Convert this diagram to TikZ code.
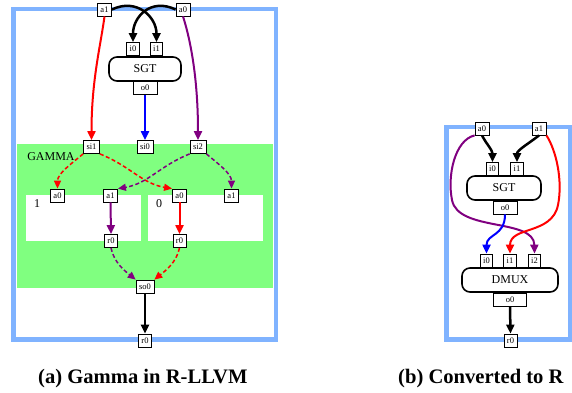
\documentclass[tikz,border=0pt]{standalone}
\usepackage{fontspec}
\setmainfont{Liberation Serif}
\usetikzlibrary{arrows.meta}
\definecolor{framec}{RGB}{128,179,255}
\definecolor{gammag}{RGB}{128,255,128}
\definecolor{pur}{RGB}{128,0,128}
\tikzset{
  port/.style={draw=black, line width=0.8pt, fill=white, font=\fontsize{8.5}{9}\selectfont, inner xsep=3pt, inner ysep=0pt, minimum height=13pt},
  opbox/.style={draw=black, line width=1.6pt, rounded corners=8pt, fill=white, font=\fontsize{12}{13}\selectfont, minimum height=24pt},
  frame/.style={draw=framec, line width=4.5pt},
  tipbig/.style={-{Triangle[length=9pt,width=8pt]}},
  tipsm/.style={-{Triangle[length=8pt,width=7pt]}},
  blk/.style={draw=black, line width=2.5pt, tipbig},
  solidc/.style={line width=2pt, tipbig},
  dashc/.style={line width=1.5pt, dash pattern=on 4pt off 2.5pt, tipsm},
  captxt/.style={font=\bfseries\fontsize{20.6}{22}\selectfont, anchor=base west, inner sep=0pt},
  lbl/.style={font=\fontsize{12}{13}\selectfont, inner sep=0pt}
}
\begin{document}
\begin{tikzpicture}[x=1pt,y=-1pt]
\useasboundingbox (0,0) rectangle (572,392);
% ---------- (a) ----------
\draw[frame] (13.5,9) rectangle (276,339.5);
\fill[gammag] (17,144) rectangle (273,288);
\fill[white] (26,195) rectangle (141,241);
\fill[white] (148,195) rectangle (263,241);
\node[lbl] (gl) at (51,157) {GAMMA};
\node[lbl] (l1) at (37,204) {1};
\node[lbl] (l0) at (159,204) {0};

\node[port] (a1) at (104.5,9.5) {a1};
\node[port] (a0) at (183,9.5) {a0};
\node[port] (i0) at (133,49) {i0};
\node[port] (i1) at (156.5,49) {i1};
\node[opbox, minimum width=72pt] (sgt) at (145,69) {SGT};
\node[port, minimum width=24pt] (o0) at (145,88) {o0};
\node[port] (si1) at (91.5,147) {si1};
\node[port] (si0) at (145,147) {si0};
\node[port] (si2) at (198,147) {si2};
\node[port] (a0L) at (57.5,195.5) {a0};
\node[port] (a1L) at (110.5,195.5) {a1};
\node[port] (a0R) at (179.5,195.5) {a0};
\node[port] (a1R) at (231.5,195.5) {a1};
\node[port] (r0L) at (111,241) {r0};
\node[port] (r0R) at (179.5,241) {r0};
\node[port] (so0) at (145,286.5) {so0};
\node[port] (r0) at (145,340.5) {r0};

\draw[blk] (a1.east) .. controls +(25,-12) and +(0,-25) .. (i1.north);
\draw[blk] (a0.west) .. controls +(-25,-12) and +(0,-25) .. (i0.north);
\draw[solidc, red] (a1.south) .. controls +(-4,30) and +(0,-60) .. (si1.north);
\draw[solidc, pur] (a0.south) .. controls +(8,25) and +(0,-60) .. (si2.north);
\draw[solidc, blue] (o0.south) -- (si0.north);
\draw[dashc, red] (si1.south west) .. controls +(-12,10) and +(0,-15) .. (a0L.north);
\draw[dashc, red] (si1.south east) .. controls +(30,12) and +(-30,-5) .. (a0R.north west);
\draw[dashc, pur] (si2.south west) .. controls +(-30,12) and +(30,-5) .. (a1L.north east);
\draw[dashc, pur] (si2.south east) .. controls +(12,10) and +(0,-15) .. (a1R.north);
\draw[solidc, pur] (a1L.south) -- (r0L.north);
\draw[solidc, red] (a0R.south) -- (r0R.north);
\draw[dashc, pur] (r0L.south) .. controls +(3,15) and +(-10,-8) .. (so0.north west);
\draw[dashc, red] (r0R.south) .. controls +(-3,15) and +(10,-8) .. (so0.north east);
\draw[blk] (so0.south) -- (r0.north);

% ---------- (b) ----------
\draw[frame] (446.5,127) rectangle (570,339.5);
\node[port] (ba0) at (482,128.5) {a0};
\node[port] (ba1) at (539,128.5) {a1};
\node[port] (bi0) at (492.5,169) {i0};
\node[port] (bi1) at (517,169) {i1};
\node[opbox, minimum width=74pt] (bsgt) at (504,188) {SGT};
\node[port, minimum width=24pt] (bo0) at (505,207.5) {o0};
\node[port] (di0) at (486.5,260.5) {i0};
\node[port] (di1) at (510,260.5) {i1};
\node[port] (di2) at (534.5,260.5) {i2};
\node[opbox, minimum width=96pt] (dmux) at (510,280) {DMUX};
\node[port, minimum width=33pt] (do0) at (510,299.5) {o0};
\node[port] (br0) at (510.5,340.5) {r0};

\draw[blk] (ba0.south) .. controls +(4,8) and +(0,-12) .. (bi0.north);
\draw[blk] (ba1.south) .. controls +(-10,8) and +(0,-12) .. (bi1.north);
\draw[solidc, pur] (ba0.south west) .. controls (455,140) and (447,175) .. (452,200)
   .. controls (458,232) and (534,218) .. (di2.north);
\draw[solidc, red] (ba1.south east) .. controls (556,150) and (563,180) .. (558,205)
   .. controls (552,235) and (510,226) .. (di1.north);
\draw[solidc, blue] (bo0.south) .. controls +(0,22) and +(0,-20) .. (di0.north);
\draw[blk] (do0.south) -- (br0.north);

% ---------- captions ----------
\node[captxt] (capa) at (38,383) {(a) Gamma in R-LLVM};
\node[captxt] (capb) at (398,383) {(b) Converted to R};
\end{tikzpicture}
\end{document}
